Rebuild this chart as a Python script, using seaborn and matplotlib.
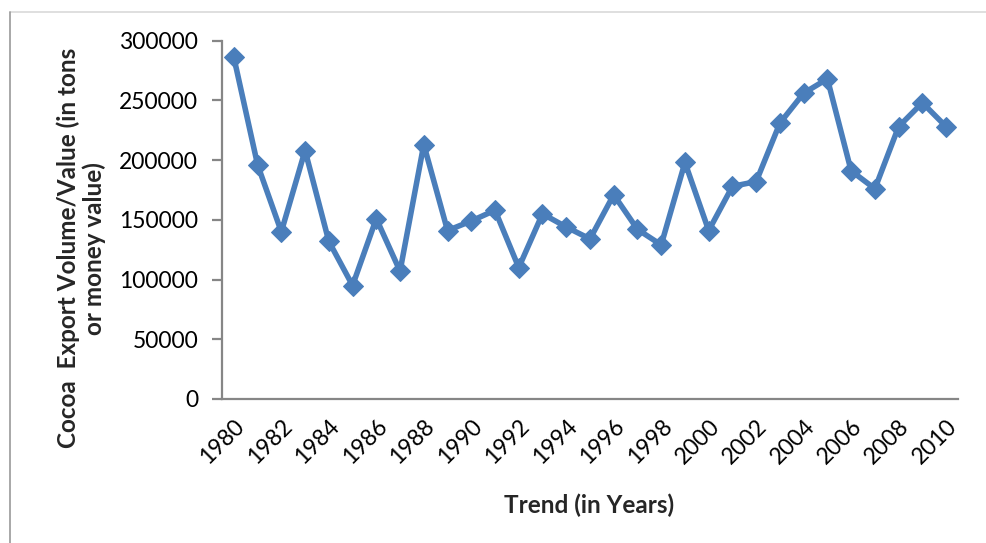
import matplotlib
matplotlib.use("Agg")
import matplotlib.pyplot as plt
from matplotlib.lines import Line2D
import seaborn as sns
import pandas as pd

# Cocoa export series, 1980-2010
years = list(range(1980, 2011))
export_values = [
    286000, 196000, 140000, 208000, 132000, 95000, 151000, 107000,
    213000, 141000, 149000, 158000, 110000, 155000, 144000, 134000,
    171000, 142000, 129000, 198000, 141000, 178000, 182000, 231000,
    256000, 268000, 191000, 176000, 228000, 248000, 228000,
]
y_ticks = [0, 50000, 100000, 150000, 200000, 250000, 300000]
x_tick_labels = [str(y) for y in years[::2]]

df = pd.DataFrame({"pos": range(len(years)), "value": export_values})

sns.set_theme(style="white")
plt.rcParams["font.family"] = ["Lato", "DejaVu Sans"]

fig = plt.figure(figsize=(9.87, 5.43), dpi=100)
ax = fig.add_axes([0.2249, 0.2652, 0.7457, 0.6600])

line_color = "#4A7EBB"
sns.lineplot(data=df, x="pos", y="value", ax=ax, color=line_color,
             linewidth=4.0, marker="D", markersize=10.5,
             markeredgecolor=line_color, markerfacecolor=line_color)

ax.set_xlim(-0.5, len(years) - 0.5)
ax.set_ylim(0, 300000)
ax.set_yticks(y_ticks)
ax.set_yticklabels([str(v) for v in y_ticks], fontsize=16.5, color="black")
ax.set_xticks(range(0, len(years), 2))
ax.set_xticklabels(x_tick_labels, rotation=45, ha="right",
                   rotation_mode="anchor", fontsize=16.5, color="black")

axis_gray = "#868686"
for side in ("top", "right"):
    ax.spines[side].set_visible(False)
for side in ("left", "bottom"):
    ax.spines[side].set_color(axis_gray)
    ax.spines[side].set_linewidth(1.6)

ax.tick_params(axis="y", which="major", direction="out", length=7.2,
               width=1.6, color=axis_gray, pad=10, left=True)
ax.tick_params(axis="x", which="major", length=0, pad=12, bottom=True)

ax.set_xlabel("")
ax.set_ylabel("")
fig.text(0.597, 0.07, "Trend (in Years)", ha="center", va="center",
         fontsize=17.5, fontweight="bold")
fig.text(0.082, 0.543, "Cocoa  Export Volume/Value (in tons\nor money value)",
         ha="center", va="center", rotation=90, fontsize=17.5,
         fontweight="bold", linespacing=1.1, multialignment="center")

# outer chart frame, cut at the right and bottom edges
fig.add_artist(Line2D([10.5 / 987, 1.0], [1 - 12 / 543, 1 - 12 / 543],
                      transform=fig.transFigure, color="#d9d9d9", linewidth=1.2))
fig.add_artist(Line2D([10.5 / 987, 10.5 / 987], [0.0, 1 - 12 / 543],
                      transform=fig.transFigure, color="#9a9a9a", linewidth=1.2))

fig.savefig("out.png", dpi=100, facecolor="white")
